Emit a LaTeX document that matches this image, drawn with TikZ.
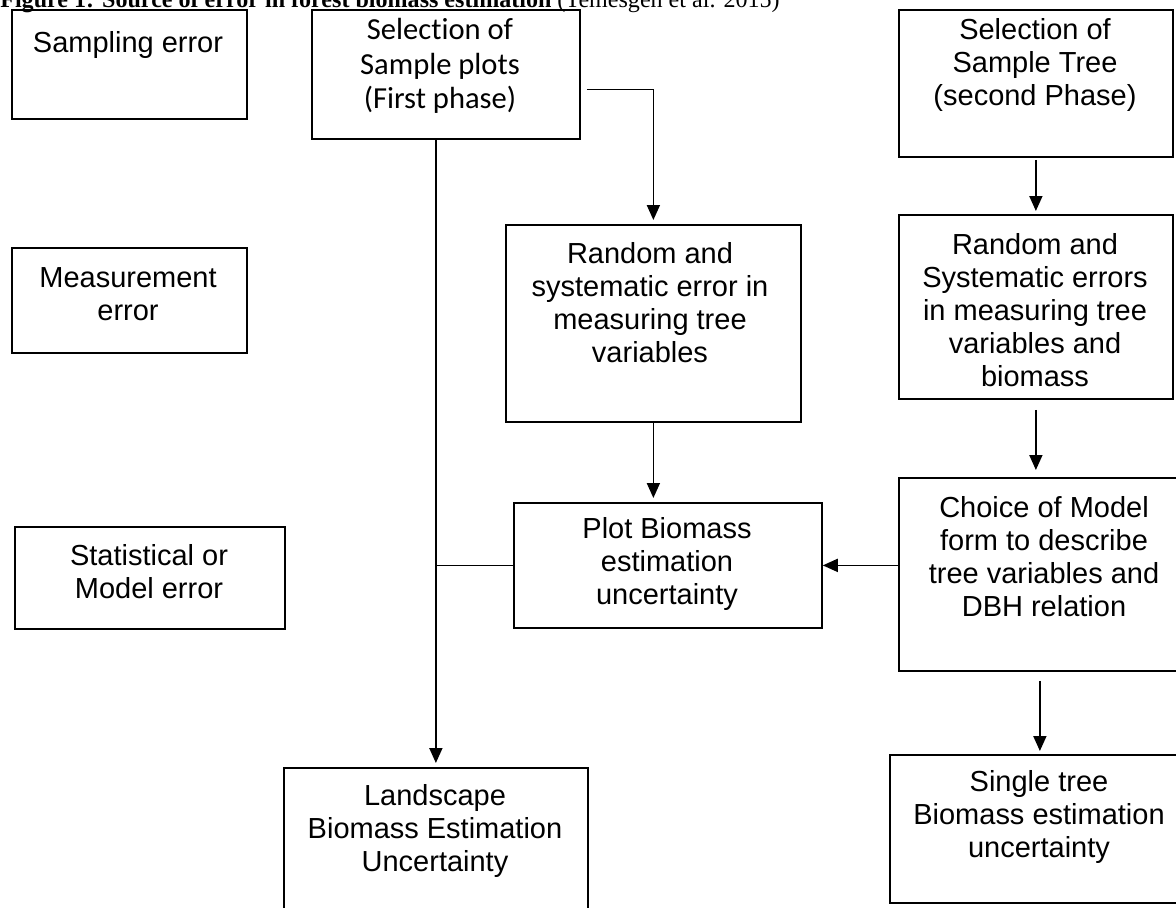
\documentclass[tikz,border=0pt]{standalone}
\usepackage{fontspec}
\setmainfont{Liberation Sans}
\newfontfamily\calibrifont[Ligatures=NoCommon]{Carlito}
\newfontfamily\timesfont{Liberation Serif}
\usepackage{tikz}
\usetikzlibrary{arrows.meta}
\usetikzlibrary{positioning}
\newcommand{\px}{0.02cm}

\begin{document}
\begin{tikzpicture}[x=0.02cm,y=-0.02cm,
  box/.style={draw,line width=1pt,rectangle,anchor=north west,inner sep=0pt},
  txt/.style={align=center,inner sep=0pt,font=\fontsize{16.5}{18.8}\selectfont},
  caltxt/.style={align=center,inner sep=0pt,font=\calibrifont\fontsize{17.4}{19.6}\selectfont},
  conn/.style={line width=1pt},
  arr/.style={line width=1pt,-{Triangle[length=0.3cm,width=0.26cm]}}]
\useasboundingbox (0,0) rectangle (1176,907);
\clip (0,0) rectangle (1176,907);

\node[anchor=base west,inner sep=0pt,font=\timesfont\fontsize{13.7}{16}\selectfont] (cap) at (0,7)
  {\textbf{Figure 1: Source of error in forest biomass estimation} (Temesgen et al. 2015)};

% error types
\node[box,minimum width=235*\px,minimum height=109*\px] (samp) at (11,9) {};
\node[box,minimum width=235*\px,minimum height=105*\px] (meas) at (11,247) {};
\node[box,minimum width=270*\px,minimum height=102*\px] (stat) at (14,526) {};
\node[txt] (samp-t) at (128,45) {Sampling error};
\node[txt] (meas-t) at (128,294) {Measurement\\error};
\node[txt] (stat-t) at (149,572) {Statistical or\\Model error};

% plot side
\node[box,minimum width=268*\px,minimum height=129*\px] (splot) at (311,9) {};
\node[box,minimum width=295*\px,minimum height=197*\px] (rndA) at (505,224) {};
\node[box,minimum width=308*\px,minimum height=125*\px] (plot) at (513,502) {};
\node[box,minimum width=304*\px,minimum height=180*\px] (land) at (283,767) {};
\node[caltxt] (splot-t) at (440,66) {Selection of\\Sample plots\\(First phase)};
\node[txt] (rndA-t) at (650,303) {Random and\\systematic error in\\measuring tree\\variables};
\node[txt] (plot-t) at (667,564) {Plot Biomass\\estimation\\uncertainty};
\node[txt] (land-t) at (435,831) {Landscape\\Biomass Estimation\\Uncertainty};

% tree side
\node[box,minimum width=274*\px,minimum height=147*\px] (tree) at (898,9) {};
\node[box,minimum width=274*\px,minimum height=184*\px] (rndB) at (898,214) {};
\node[box,minimum width=292*\px,minimum height=193*\px] (choice) at (898,477) {};
\node[box,minimum width=300*\px,minimum height=148*\px] (single) at (889,754) {};
\node[txt] (tree-t) at (1035,65) {Selection of\\Sample Tree\\(second Phase)};
\node[txt] (rndB-t) at (1035,310) {Random and\\Systematic errors\\in measuring tree\\variables and\\biomass};
\node[txt] (choice-t) at (1044,557) {Choice of Model\\form to describe\\tree variables and\\DBH relation};
\node[txt] (single-t) at (1039,817) {Single tree\\Biomass estimation\\uncertainty};

\draw[arr,shorten >=0.08cm] ([xshift=6*\px,yshift=-15*\px]splot.east) -| (rndA.north);
\draw[arr,shorten >=0.08cm] (splot.south -| land.north) -- (land.north);
\draw[conn] (land.north |- plot.west) -- (plot.west);
\draw[arr,shorten >=0.08cm] (rndA.south) -- (rndA.south |- plot.north);
\draw[arr] (choice.west |- plot.east) -- (plot.east);
\draw[arr,shorten <=0.04cm,shorten >=0.06cm] (tree.south) -- (rndB.north);
\draw[arr,shorten <=0.2cm,shorten >=0.14cm] (rndB.south) -- (rndB.south |- choice.north);
\draw[arr,shorten <=0.18cm,shorten >=0.06cm] (choice.south -| single.north) -- (single.north);
\end{tikzpicture}
\end{document}
